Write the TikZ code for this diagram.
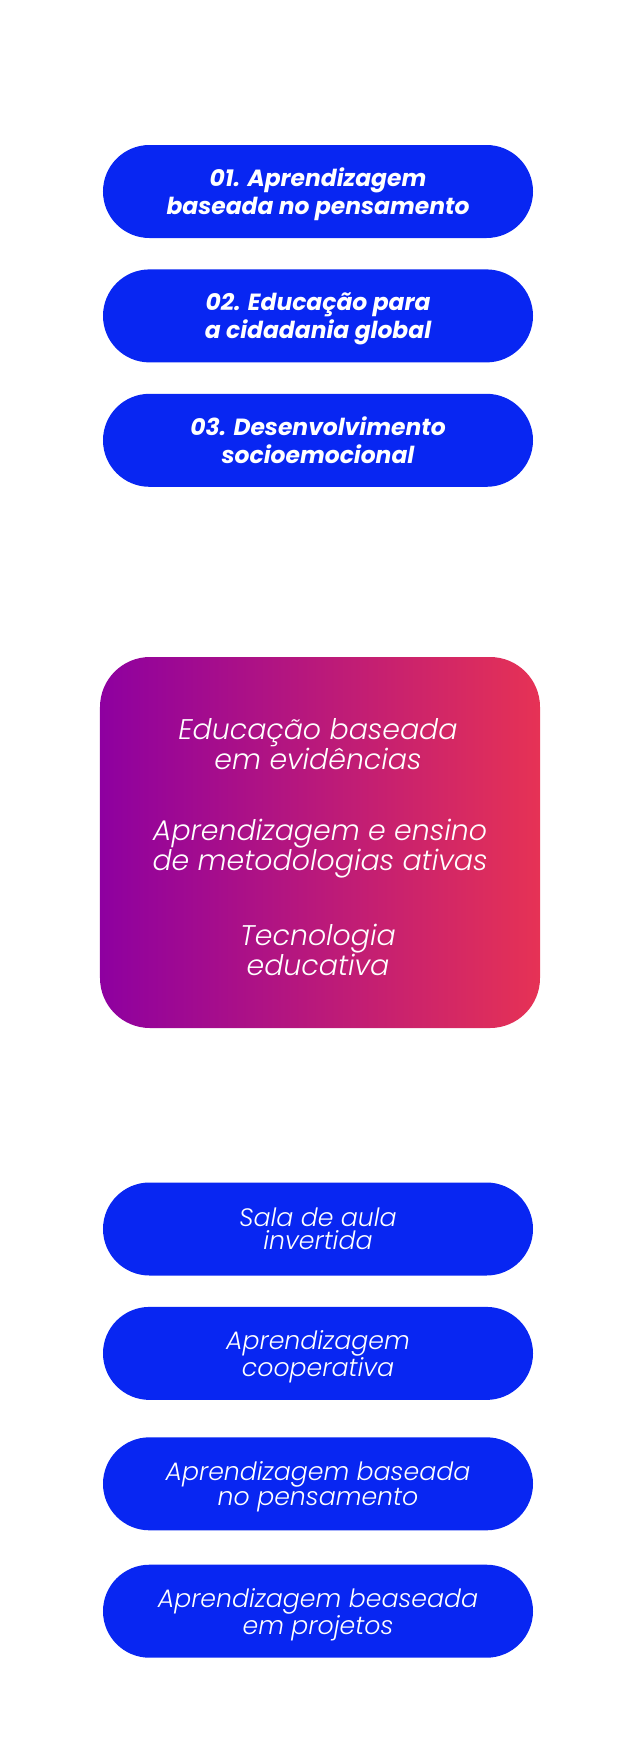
\documentclass[tikz,border=0pt]{standalone}
\usepackage{fontspec}
\setmainfont{Poppins}
\newfontfamily\boldit{Poppins Bold Italic}
\newfontfamily\lightit{Poppins Light Italic}
\usetikzlibrary{positioning}
\definecolor{pillblue}{RGB}{8,38,242}
\definecolor{gradleft}{RGB}{142,0,160}
\definecolor{gradright}{RGB}{230,50,85}

\begin{document}
\begin{tikzpicture}[x=1bp, y=-1bp, node distance=31bp,
  pill/.style = {shape=rectangle, fill=pillblue, text=white,
    rounded corners=46.5bp, minimum width=430bp, minimum height=93bp,
    align=center, inner sep=0pt, text depth=0pt},
  topitem/.style = {pill, font=\boldit\fontsize{23.5}{28}\selectfont},
  method/.style = {pill, font=\lightit\fontsize{25.3}{23}\selectfont},
  practice/.style = {text=white, align=center,
    font=\lightit\fontsize{28.5}{30}\selectfont}]
  \useasboundingbox (0,0) rectangle (640,1750);
  % top pills
  \node[topitem] (p1) at (318,191.5) {01. Aprendizagem\\baseada no pensamento};
  \node[topitem, below=of p1] (p2) {02. Educação para\\a cidadania global};
  \node[topitem, below=of p2] (p3) {03. Desenvolvimento\\socioemocional};
  % gradient box
  \node[minimum width=440bp, minimum height=371bp, rounded corners=50bp,
    left color=gradleft, right color=gradright] (box) at (320,842.5) {};
  \node[practice] (b1) at (318,744) {Educação baseada\\em evidências};
  \node[practice] (b2) at (320,849) {Aprendizagem e ensino\\de metodologias ativas};
  \node[practice] (b3) at (318,950) {Tecnologia\\educativa};
  % bottom pills
  \node[method] (m1) at (318,1229) {Sala de aula\\invertida};
  \node[method, below=31bp of m1] (m2) {Aprendizagem\\cooperativa};
  \node[method, below=37bp of m2] (m3) {Aprendizagem baseada\\no pensamento};
  \node[method, below=34bp of m3] (m4) {Aprendizagem beaseada\\em projetos};
\end{tikzpicture}
\end{document}
